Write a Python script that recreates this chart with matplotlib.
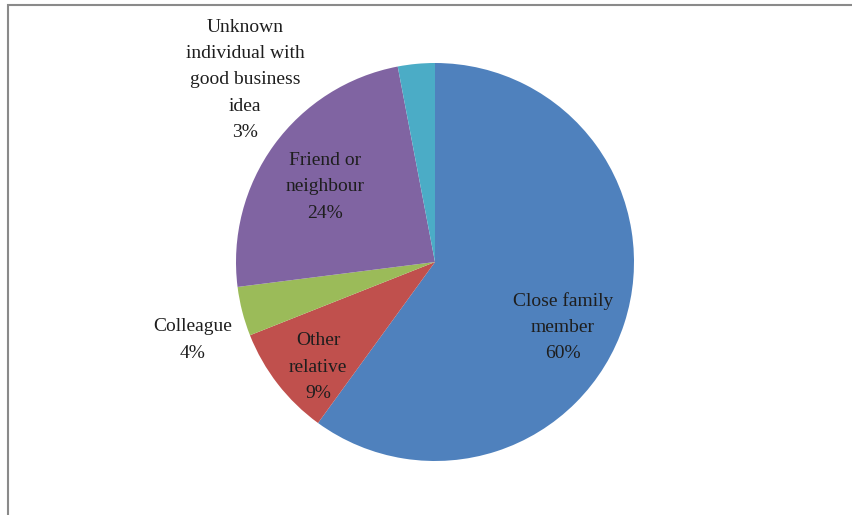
import matplotlib
matplotlib.use("Agg")
import matplotlib.pyplot as plt
from matplotlib.patches import Rectangle

categories = ["Close family\nmember", "Other\nrelative", "Colleague",
              "Friend or\nneighbour", "Unknown\nindividual with\ngood business\nidea"]
values = [60, 9, 4, 24, 3]
colors = ["#4F81BD", "#C0504D", "#9BBB59", "#8064A2", "#4BACC6"]

# label centres in data units (pie radius = 1)
label_pos = [(0.643, -0.327), (-0.588, -0.528), (-1.219, -0.392),
             (-0.553, 0.377), (-0.955, 0.915)]

W, H = 852, 515
fig = plt.figure(figsize=(W / 100, H / 100), dpi=100)
fig.patch.set_facecolor("white")

# outer frame
fig.add_artist(Rectangle((8 / W, -0.05), 1.2, (515 - 5) / H + 0.05,
                         transform=fig.transFigure, fill=False,
                         edgecolor="#8a8a8a", linewidth=1.5))

cx, cy, r = 435, 262, 199
ax = fig.add_axes([(cx - r) / W, (H - cy - r) / H, 2 * r / W, 2 * r / H])
ax.pie(values, colors=colors, startangle=90, counterclock=False, radius=1,
       wedgeprops=dict(linewidth=0))
ax.set_xlim(-1, 1)
ax.set_ylim(-1, 1)
ax.set_aspect("auto")
ax.axis("off")

for cat, v, (x, y) in zip(categories, values, label_pos):
    ax.text(x, y, f"{cat}\n{v}%", ha="center", va="center",
            fontsize=14, family="Liberation Serif", color="#1e1e1e",
            linespacing=1.7, clip_on=False)

fig.savefig("out.png", dpi=100, facecolor="white")
